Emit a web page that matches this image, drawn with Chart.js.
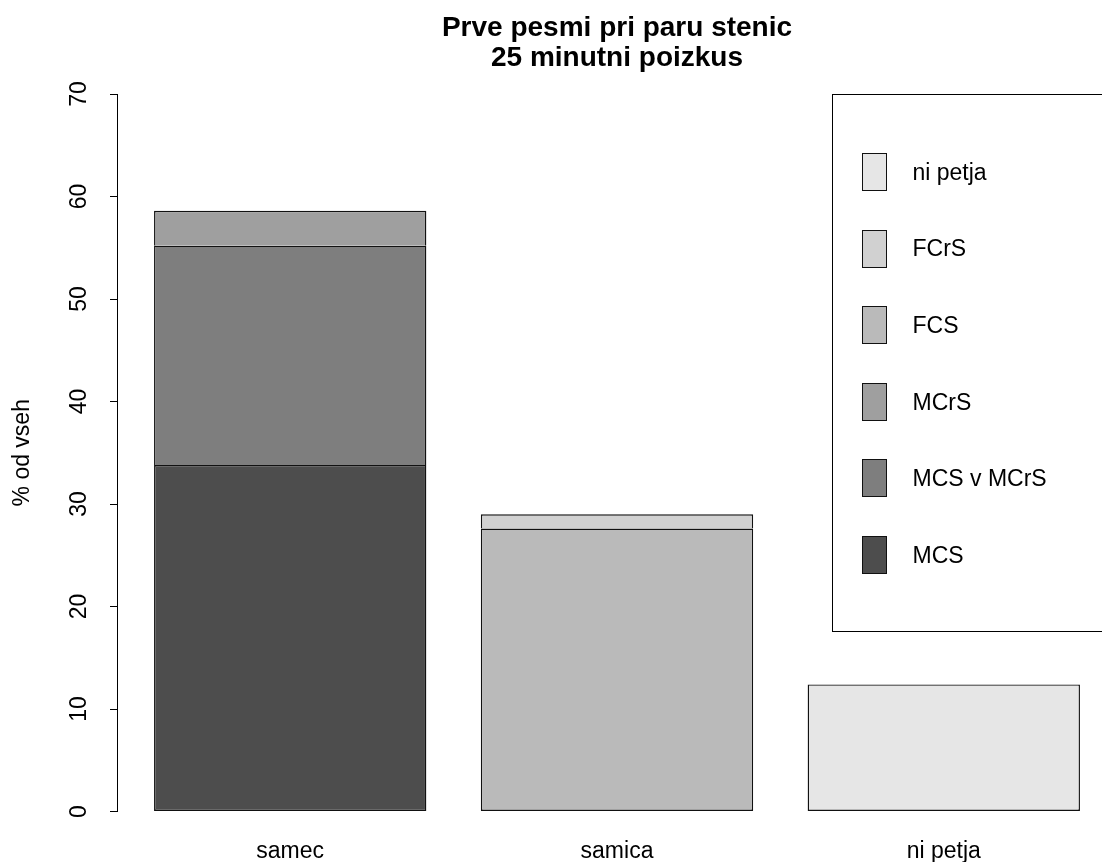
<!DOCTYPE html>
<html>
<head>
<meta charset="utf-8">
<title>Prve pesmi pri paru stenic</title>
<script src="https://cdn.jsdelivr.net/npm/chart.js@4/dist/chart.umd.min.js"></script>
<style>
  html, body { margin: 0; padding: 0; background: #fff; overflow: hidden; }
  canvas { display: block; }
</style>
</head>
<body>
<canvas id="songs-chart" width="1140" height="862"></canvas>
<script>
// Groups along the x axis
const categories = ['samec', 'samica', 'ni petja'];

// Song types, bottom of each stack first
const songTypes = ['MCS', 'MCS v MCrS', 'MCrS', 'FCS', 'FCrS', 'ni petja'];

// Share of all trials (%) per group, null where the type does not occur
const mcsValues     = [33.8, null, null];
const mcsMcrsValues = [21.4, null, null];
const mcrsValues    = [3.4, null, null];
const fcsValues     = [null, 27.6, null];
const fcrsValues    = [null, 1.4, null];
const noSongValues  = [null, null, 12.4];

const yTicks = [0, 10, 20, 30, 40, 50, 60, 70];

const titleLines = ['Prve pesmi pri paru stenic', '25 minutni poizkus'];

const greys = ['#4D4D4D', '#7E7E7E', '#9F9F9F', '#BABABA', '#D1D1D1', '#E6E6E6'];
const fontFamily = "'Liberation Sans', Arial, sans-serif";

Chart.defaults.font.family = fontFamily;
Chart.defaults.color = '#000';

const seriesValues = [mcsValues, mcsMcrsValues, mcrsValues, fcsValues, fcrsValues, noSongValues];

const datasets = seriesValues.map((values, s) => {
    // the lowest segment of a stack keeps its bottom edge
    const isBase = values.every((v, i) => v === null || seriesValues.slice(0, s).every(prev => prev[i] === null));
    return {
        label: songTypes[s],
        data: values.map((v, i) => ({ x: i, y: v })),
        backgroundColor: greys[s],
        borderColor: '#111',
        borderWidth: 1.4,
        borderSkipped: isBase ? false : 'start',
        barPercentage: 1 / 1.2,
        categoryPercentage: 1
    };
});

// Title above the plot and the boxed key on the right
const titleAndKey = {
    id: 'titleAndKey',
    afterDraw(chart) {
        const { ctx, chartArea } = chart;
        ctx.save();
        ctx.fillStyle = '#000';
        ctx.textAlign = 'center';
        ctx.textBaseline = 'alphabetic';
        ctx.font = 'bold 28px ' + fontFamily;
        const cx = (chartArea.left + chartArea.right) / 2;
        titleLines.forEach((line, i) => ctx.fillText(line, cx, 36 + i * 30));

        const boxLeft = Math.round(chartArea.right - 285) + 0.5;
        const boxTop = Math.round(chartArea.top) + 0.5;
        ctx.strokeStyle = '#000';
        ctx.lineWidth = 1;
        ctx.strokeRect(boxLeft, boxTop, 300, 537);

        ctx.font = '23px ' + fontFamily;
        ctx.textAlign = 'left';
        ctx.textBaseline = 'middle';
        const items = chart.data.datasets.slice().reverse();
        items.forEach((ds, k) => {
            const cy = boxTop + 77 + k * 76.6;
            const sx = Math.round(boxLeft + 29) + 0.5;
            const sy = Math.round(cy - 18.5) + 0.5;
            ctx.fillStyle = ds.backgroundColor;
            ctx.fillRect(sx, sy, 24, 37);
            ctx.strokeStyle = '#111';
            ctx.strokeRect(sx, sy, 24, 37);
            ctx.fillStyle = '#000';
            ctx.fillText(ds.label, boxLeft + 80, cy + 2);
        });
        ctx.restore();
    }
};

new Chart(document.getElementById('songs-chart'), {
    type: 'bar',
    data: { datasets: datasets },
    options: {
        responsive: false,
        animation: false,
        layout: { padding: { top: 94, left: 0, right: 23, bottom: 0 } },
        plugins: {
            legend: { display: false },
            title: { display: false },
            tooltip: { enabled: false }
        },
        scales: {
            x: {
                type: 'linear',
                offset: false,
                stacked: true,
                min: -0.53,
                max: 2.53,
                afterBuildTicks: scale => { scale.ticks = categories.map((c, i) => ({ value: i })); },
                afterFit: scale => { scale.height = 50.5; },
                border: { display: false },
                grid: { display: false, drawTicks: false, offset: false },
                ticks: {
                    callback: value => categories[value],
                    padding: 26,
                    maxRotation: 0,
                    autoSkip: false,
                    font: { size: 23 }
                }
            },
            y: {
                stacked: true,
                min: 0,
                max: 70,
                afterBuildTicks: scale => { scale.ticks = yTicks.map(v => ({ value: v })); },
                afterFit: scale => { scale.width = 117; },
                border: { display: true, color: '#000', width: 1 },
                grid: { drawOnChartArea: false, color: '#000', tickLength: 7, tickWidth: 1 },
                ticks: {
                    minRotation: 90,
                    maxRotation: 90,
                    crossAlign: 'center',
                    padding: 18,
                    autoSkip: false,
                    font: { size: 23 }
                },
                title: {
                    display: true,
                    text: '% od vseh',
                    font: { size: 23 },
                    padding: { top: 9, bottom: 0 }
                }
            }
        }
    },
    plugins: [titleAndKey]
});
</script>
</body>
</html>
